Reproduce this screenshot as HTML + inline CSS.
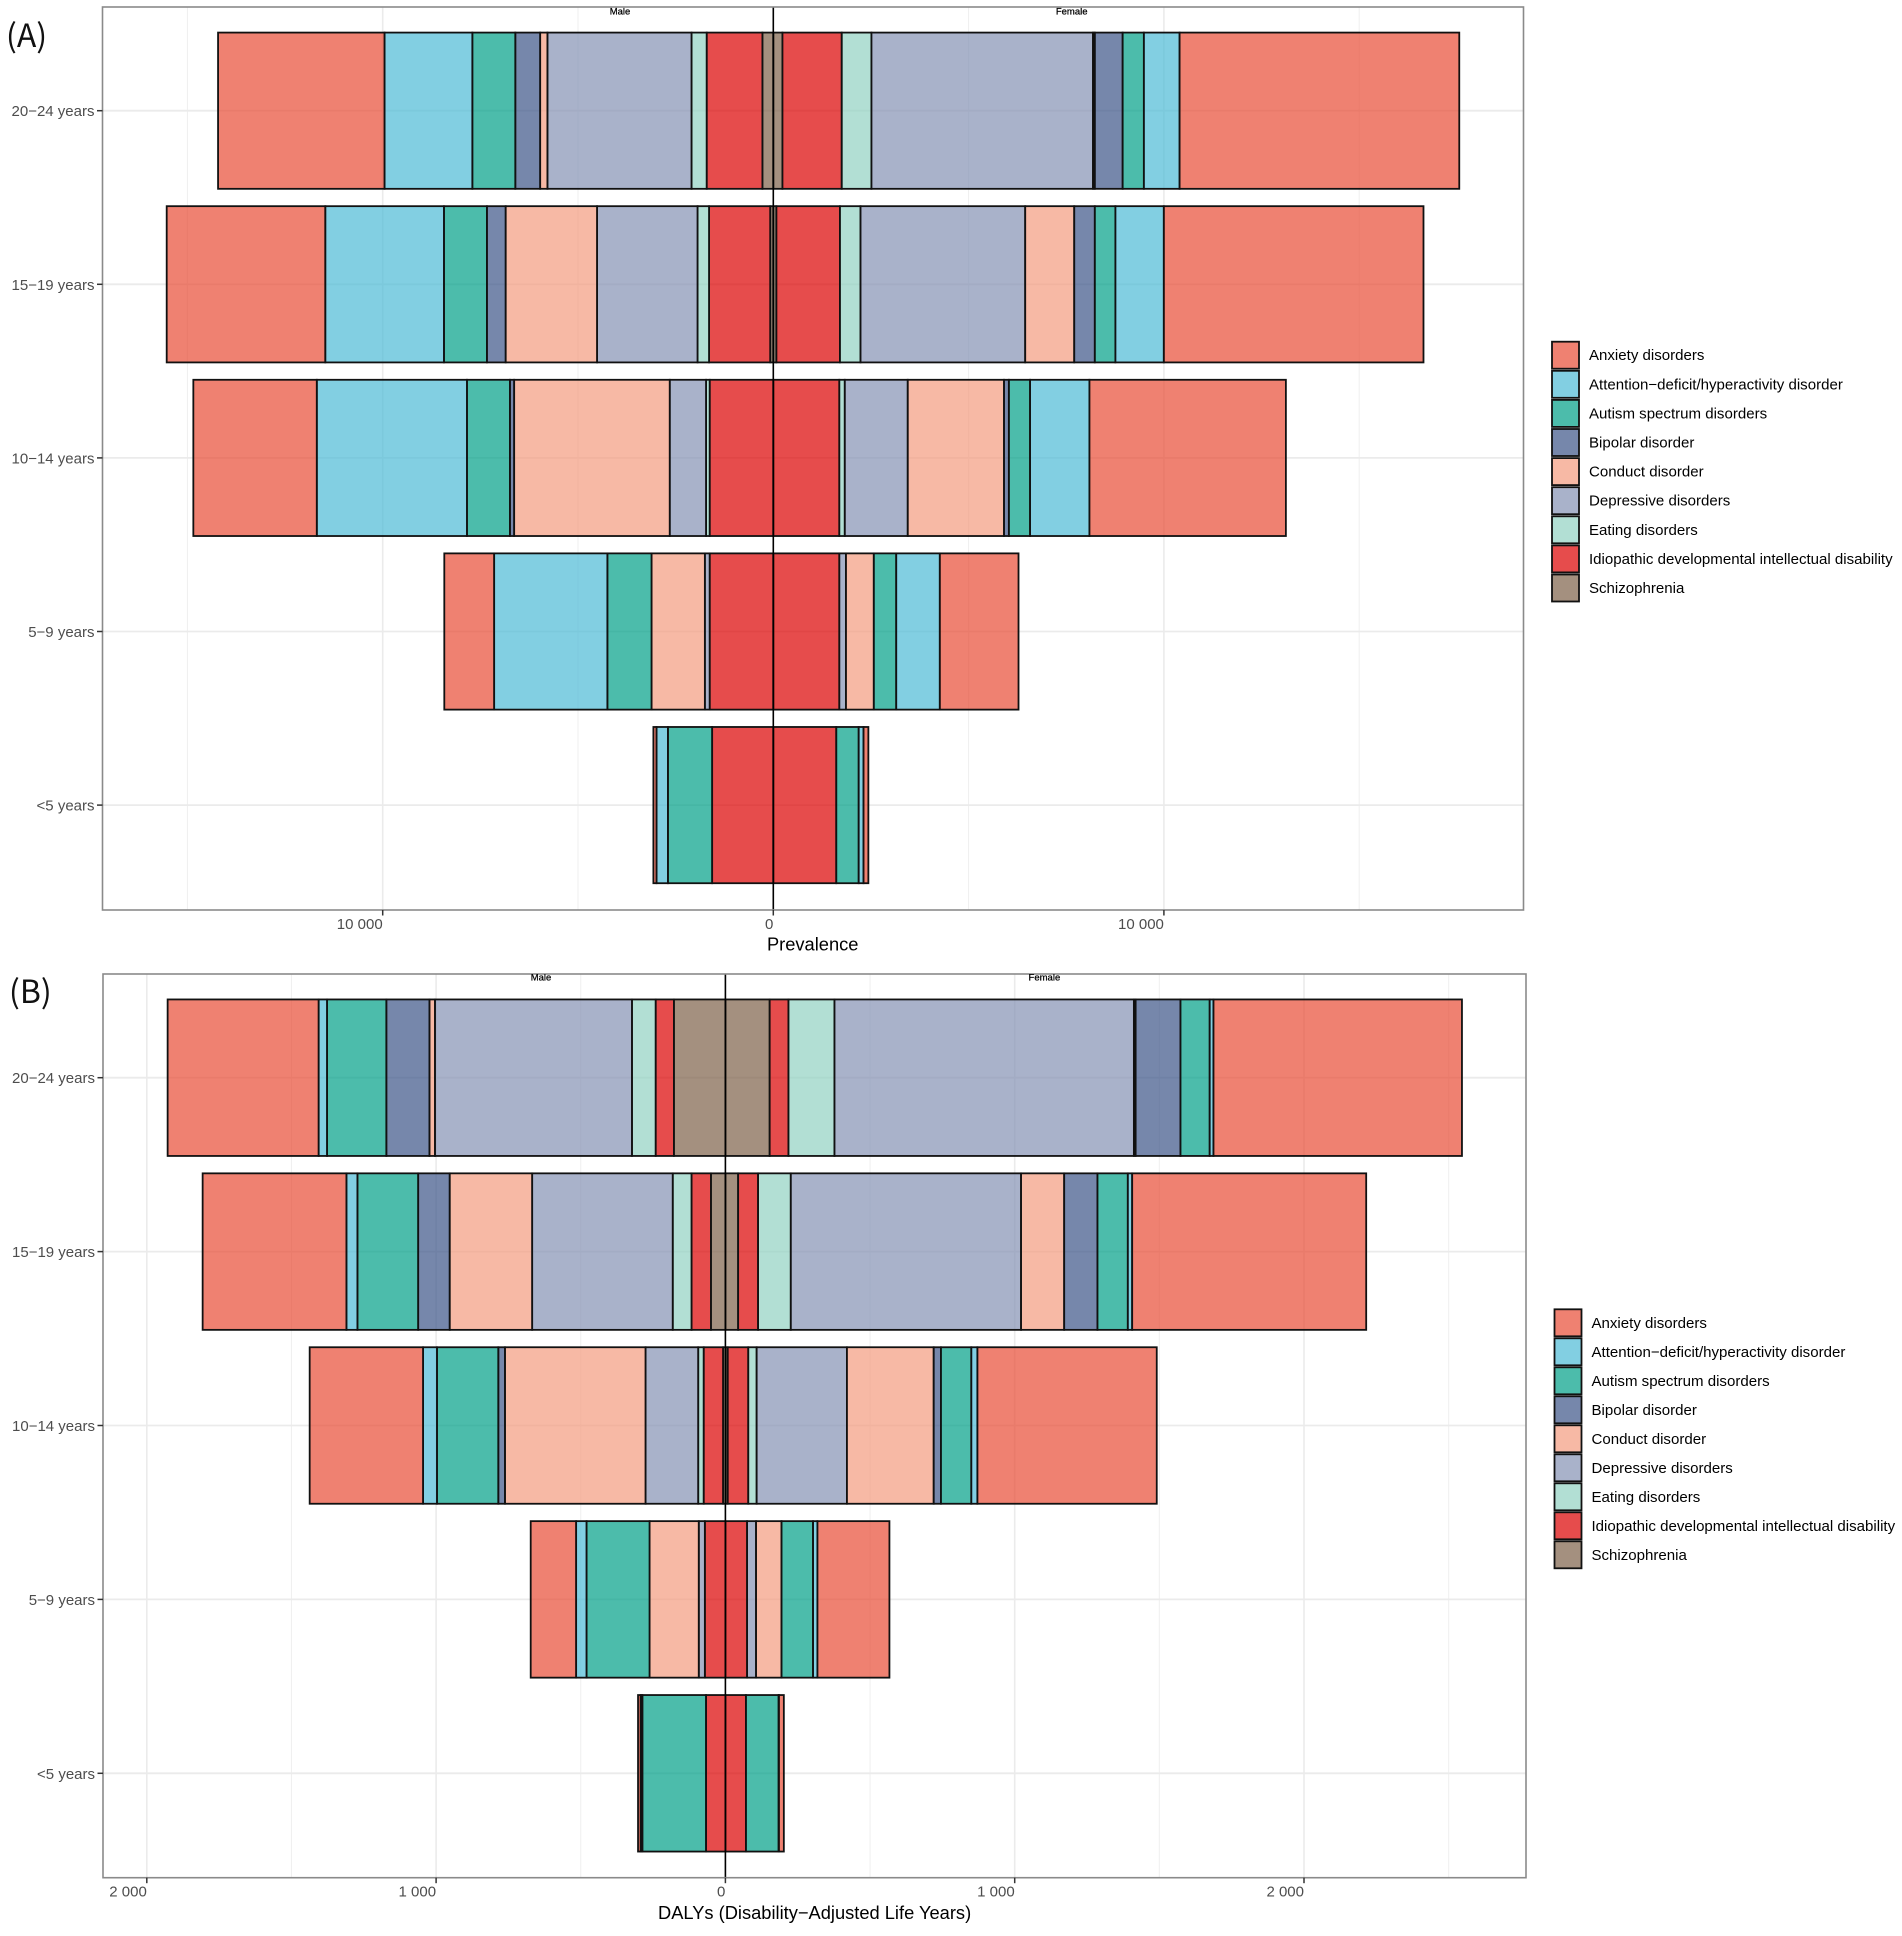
<!DOCTYPE html>
<html lang="en">
<head>
<meta charset="utf-8">
<title>Prevalence and DALYs by age group and sex</title>
<style>
html,body{margin:0;padding:0;background:#fff;}
svg{display:block;filter:blur(0.35px);}
text{font-family:"Liberation Sans",Arial,sans-serif;}
.panel-tag{font-family:"Noto Sans CJK SC","Liberation Sans",sans-serif;font-size:32px;fill:#111;}
</style>
</head>
<body>
<svg id="figure" xmlns="http://www.w3.org/2000/svg" width="1902" height="1936" viewBox="0 0 1902 1936">
<defs>
<clipPath id="clip-a"><rect x="102.5" y="7" width="1421" height="903"></rect></clipPath>
<clipPath id="clip-b"><rect x="103" y="974" width="1423" height="904"></rect></clipPath>
</defs>
</svg>
<script>
// Shared categories and legend
const categories = ['20−24 years', '15−19 years', '10−14 years', '5−9 years', '<5 years'];
const disorders = ['Anxiety disorders', 'Attention−deficit/hyperactivity disorder', 'Autism spectrum disorders', 'Bipolar disorder', 'Conduct disorder', 'Depressive disorders', 'Eating disorders', 'Idiopathic developmental intellectual disability', 'Schizophrenia'];
const palette = ['#E84B35', '#4DBBD5', '#00A087', '#3C5488', '#F39B7F', '#8491B4', '#91D1C2', '#DC0000', '#7E6148'];

// Panel A: prevalence, values in legend order
const prevMale2024 = [4262, 2248, 1100, 636, 186, 3690, 388, 1426, 279];
const prevFemale2024 = [7160, 915, 543, 713, 46, 5673, 760, 1519, 233];
const prevMale1519 = [4060, 3038, 1100, 480, 2340, 2573, 295, 1566, 78];
const prevFemale1519 = [6648, 1240, 527, 527, 1255, 4216, 527, 1628, 78];
const prevMale1014 = [3161, 3844, 1100, 108, 3984, 930, 93, 1628, 0];
const prevFemale1014 = [5030, 1519, 543, 124, 2465, 1612, 140, 1690, 0];
const prevMale0509 = [1276, 2899, 1132, 0, 1364, 124, 0, 1628, 0];
const prevFemale0509 = [2015, 1116, 574, 0, 713, 170, 0, 1690, 0];
const prevMale0004 = [80, 292, 1132, 0, 0, 0, 0, 1566, 0];
const prevFemale0004 = [124, 124, 574, 0, 0, 0, 0, 1612, 0];
const prevMajorTicks = [-10000, 0, 10000];
const prevMinorTicks = [-15000, -5000, 5000, 15000];
const prevTickLabels = ['10 000', '0', '10 000'];

// Panel B: DALYs, values in legend order
const dalyMale2024 = [522, 29, 205, 149, 19, 681, 82, 63, 178];
const dalyFemale2024 = [859, 13, 101, 155, 6, 1035, 159, 65, 153];
const dalyMale1519 = [497, 38, 210, 109, 285, 486, 65, 67, 50];
const dalyFemale1519 = [809, 15, 105, 115, 149, 796, 113, 69, 44];
const dalyMale1014 = [392, 48, 212, 23, 486, 182, 19, 67, 8];
const dalyFemale1014 = [620, 21, 105, 25, 300, 312, 29, 71, 8];
const dalyMale0509 = [157, 36, 218, 0, 170, 21, 0, 71, 0];
const dalyFemale0509 = [249, 15, 109, 0, 88, 31, 0, 75, 0];
const dalyMale0004 = [9, 6, 220, 0, 0, 0, 0, 67, 0];
const dalyFemale0004 = [17, 1, 113, 0, 0, 0, 0, 71, 0];
const dalyMajorTicks = [-2000, -1000, 0, 1000, 2000];
const dalyMinorTicks = [-1500, -500, 500, 1500, 2500];
const dalyTickLabels = ['2 000', '1 000', '0', '1 000', '2 000'];

const NS = 'http://www.w3.org/2000/svg';
const fig = document.getElementById('figure');

function make(tag, attrs, parent, content) {
  const el = document.createElementNS(NS, tag);
  for (const k in attrs) el.setAttribute(k, attrs[k]);
  if (content !== undefined) el.textContent = content;
  parent.appendChild(el);
  return el;
}
function slug(s) {
  return s.toLowerCase().replace(/[^a-z0-9]+/g, '-').replace(/^-|-$/g, '');
}

function drawPanel(cfg) {
  const xScale = v => cfg.zero + v * cfg.pxPerUnit;
  const yScale = i => cfg.yFirst + i * cfg.yStep;
  const barH = cfg.yStep * 0.9;

  const root = make('g', {}, fig);
  
  

  const bg = make('rect', {x: cfg.left, y: cfg.top, width: cfg.right - cfg.left, height: cfg.bottom - cfg.top, fill: '#fff'}, root);
  
  

  // gridlines
  cfg.minor.forEach(v => {
    const g = make('line', {x1: xScale(v), x2: xScale(v), y1: cfg.top, y2: cfg.bottom, stroke: '#efefef', 'stroke-width': 1}, root);
    
    
  });
  cfg.major.forEach(v => {
    const g = make('line', {x1: xScale(v), x2: xScale(v), y1: cfg.top, y2: cfg.bottom, stroke: '#ebebeb', 'stroke-width': 1.6}, root);
    
    
  });
  categories.forEach((c, i) => {
    const g = make('line', {x1: cfg.left, x2: cfg.right, y1: yScale(i), y2: yScale(i), stroke: '#ebebeb', 'stroke-width': 1.8}, root);
    
    
  });

  // stacked bars, stacked outward from the centre
  const drawSide = (rows, sign, sexName) => {
    rows.forEach((row, i) => {
      let cum = 0;
      for (let d = row.length - 1; d >= 0; d--) {
        const a = xScale(sign * cum);
        const b = xScale(sign * (cum + row[d]));
        const r = make('rect', {
          x: Math.min(a, b), y: yScale(i) - barH / 2,
          width: Math.abs(b - a), height: barH,
          fill: palette[d], 'fill-opacity': 0.7,
          stroke: '#111', 'stroke-width': 1.8
        }, root);
        
        
        cum += row[d];
      }
    });
  };
  drawSide(cfg.male, -1, 'male');
  drawSide(cfg.female, 1, 'female');

  const zeroLine = make('line', {x1: xScale(0), x2: xScale(0), y1: cfg.top, y2: cfg.bottom, stroke: '#000', 'stroke-width': 1.6}, root);
  
  

  const border = make('rect', {x: cfg.left, y: cfg.top, width: cfg.right - cfg.left, height: cfg.bottom - cfg.top, fill: 'none', stroke: '#8a8a8a', 'stroke-width': 1.6}, root);
  
  

  // sex captions, clipped by the panel
  const clip = make('g', {'clip-path': 'url(#' + cfg.clip + ')'}, root);
  const maleCap = make('text', {x: cfg.maleX, y: cfg.capY, 'text-anchor': 'middle', 'font-size': 9.5, fill: '#000', stroke: '#000', 'stroke-width': 0.25}, clip, 'Male');
  
  
  const femaleCap = make('text', {x: cfg.femaleX, y: cfg.capY, 'text-anchor': 'middle', 'font-size': 9.5, fill: '#000', stroke: '#000', 'stroke-width': 0.25}, clip, 'Female');
  
  

  // y axis
  categories.forEach((c, i) => {
    const t = make('line', {x1: cfg.left - 5.5, x2: cfg.left, y1: yScale(i), y2: yScale(i), stroke: '#333', 'stroke-width': 1.5}, root);
    
    
    const l = make('text', {x: cfg.left - 8, y: yScale(i) + 5.5, 'text-anchor': 'end', 'font-size': 15, fill: '#4d4d4d'}, root, c);
    
    
  });

  // x axis
  cfg.major.forEach((v, i) => {
    const t = make('line', {x1: xScale(v), x2: xScale(v), y1: cfg.bottom, y2: cfg.bottom + 5.5, stroke: '#333', 'stroke-width': 1.5}, root);
    
    
    const l = make('text', {x: xScale(v), y: cfg.bottom + 19, 'text-anchor': 'end', 'font-size': 15, fill: '#4d4d4d'}, root, cfg.tickLabels[i]);
    
    
  });
  const title = make('text', {x: cfg.titleX, y: cfg.titleY, 'text-anchor': 'middle', 'font-size': 18.3, fill: '#000'}, root, cfg.title);
  
  

  // legend
  const legend = make('g', {}, root);
  
  
  disorders.forEach((name, i) => {
    const cy = cfg.legendY + i * cfg.legendStep;
    const entry = make('g', {}, legend);
    
    
    const s = make('rect', {x: cfg.legendX, y: cy - 13.5, width: 27, height: 27, fill: palette[i], 'fill-opacity': 0.7, stroke: '#111', 'stroke-width': 1.8}, entry);
    
    
    const t = make('text', {x: cfg.legendX + 37, y: cy + 5, 'font-size': 15.05, fill: '#000'}, entry, name);
    
    
  });

  const tag = make('text', {class: 'panel-tag', x: cfg.tagX, y: cfg.tagY}, root, cfg.tag);
  
  
}

drawPanel({
  key: 'prevalence', clip: 'clip-a', tag: '(A)', tagX: 6, tagY: 47,
  left: 102.5, right: 1523.5, top: 7, bottom: 910,
  zero: 773.3, pxPerUnit: 0.03906, yFirst: 110.7, yStep: 173.6,
  male: [prevMale2024, prevMale1519, prevMale1014, prevMale0509, prevMale0004],
  female: [prevFemale2024, prevFemale1519, prevFemale1014, prevFemale0509, prevFemale0004],
  major: prevMajorTicks, minor: prevMinorTicks, tickLabels: prevTickLabels,
  title: 'Prevalence', titleX: 812.7, titleY: 950.5,
  maleX: 620, femaleX: 1071.7, capY: 14.5,
  legendX: 1552, legendY: 355.2, legendStep: 29.1
});

drawPanel({
  key: 'dalys', clip: 'clip-b', tag: '(B)', tagX: 9, tagY: 1003,
  left: 103, right: 1526, top: 974, bottom: 1877.7,
  zero: 725.4, pxPerUnit: 0.2893, yFirst: 1077.7, yStep: 173.9,
  male: [dalyMale2024, dalyMale1519, dalyMale1014, dalyMale0509, dalyMale0004],
  female: [dalyFemale2024, dalyFemale1519, dalyFemale1014, dalyFemale0509, dalyFemale0004],
  major: dalyMajorTicks, minor: dalyMinorTicks, tickLabels: dalyTickLabels,
  title: 'DALYs (Disability−Adjusted Life Years)', titleX: 814.6, titleY: 1919,
  maleX: 541, femaleX: 1044.4, capY: 980.7,
  legendX: 1554.5, legendY: 1322.8, legendStep: 29
});
</script>
</body>
</html>
